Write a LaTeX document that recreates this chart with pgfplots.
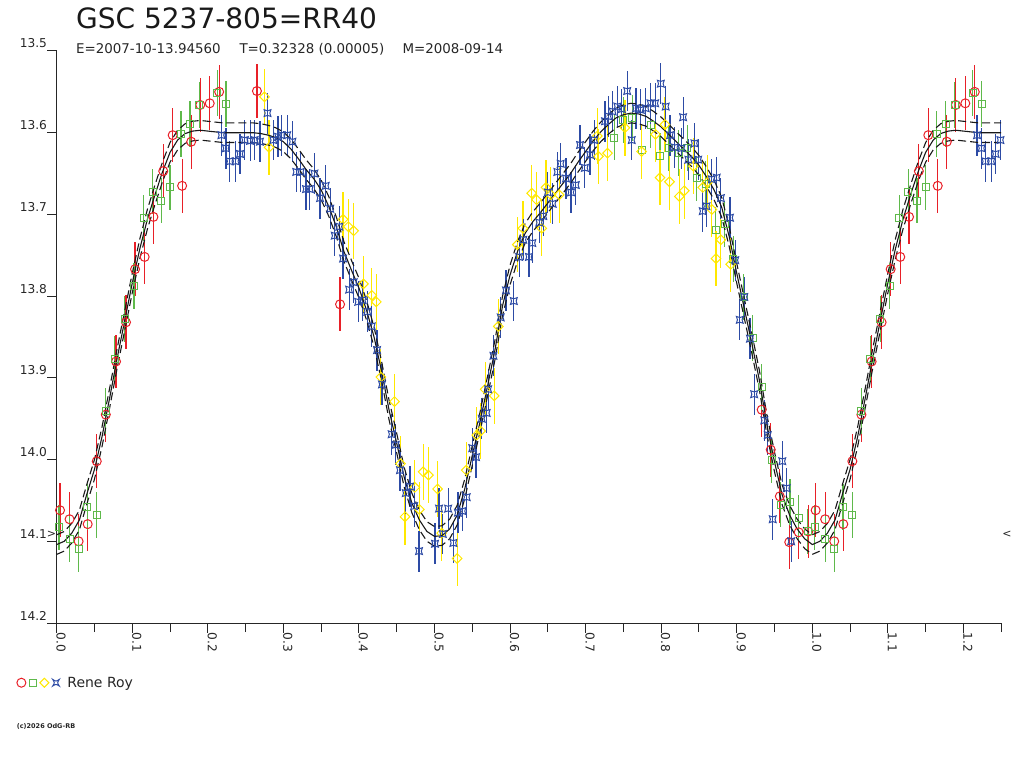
\documentclass[border=0pt]{standalone}
\usepackage{pgfplots}
\pgfplotsset{compat=1.18}
\usepackage{pgfplotstable}
\usepackage{fontspec}
\setmainfont{DejaVu Sans}
\definecolor{cred}{RGB}{232,32,40}
\definecolor{cgreen}{RGB}{95,185,75}
\definecolor{cyellow}{RGB}{255,232,0}
\definecolor{cblue}{RGB}{45,75,165}
\pgfdeclareplotmark{hglass}{%
  \pgfpathmoveto{\pgfpoint{-\pgfplotmarksize}{-\pgfplotmarksize}}%
  \pgfpathquadraticcurveto{\pgfpoint{0pt}{-0.35\pgfplotmarksize}}{\pgfpoint{\pgfplotmarksize}{-\pgfplotmarksize}}%
  \pgfpathquadraticcurveto{\pgfpoint{0.35\pgfplotmarksize}{0pt}}{\pgfpoint{\pgfplotmarksize}{\pgfplotmarksize}}%
  \pgfpathquadraticcurveto{\pgfpoint{0pt}{0.35\pgfplotmarksize}}{\pgfpoint{-\pgfplotmarksize}{\pgfplotmarksize}}%
  \pgfpathquadraticcurveto{\pgfpoint{-0.35\pgfplotmarksize}{0pt}}{\pgfpoint{-\pgfplotmarksize}{-\pgfplotmarksize}}%
  \pgfpathclose\pgfusepathqstroke}

\pgfplotstableread{
x y
0.0044 14.062
0.017 14.073
0.029 14.100
0.041 14.079
0.053 14.002
0.065 13.945
0.0785 13.880
0.0917 13.832
0.1037 13.767
0.1164 13.752
0.128 13.703
0.141 13.647
0.1535 13.603
0.166 13.665
0.178 13.611
0.190 13.566
0.2025 13.564
0.215 13.550
0.265 13.549
0.375 13.810
0.933 13.939
0.945 13.988
0.957 14.045
0.9695 14.101
0.982 14.089
0.9947 14.088
1.0044 14.062
1.017 14.073
1.029 14.100
1.041 14.079
1.053 14.002
1.065 13.945
1.0785 13.880
1.0917 13.832
1.1037 13.767
1.1164 13.752
1.128 13.703
1.141 13.647
1.1535 13.603
1.166 13.665
1.178 13.611
1.190 13.566
1.2025 13.564
1.215 13.550
}\redtab

\pgfplotstableread{
x y
0.003 14.083
0.017 14.097
0.029 14.109
0.0405 14.058
0.053 14.068
0.065 13.941
0.077 13.877
0.090 13.828
0.1023 13.788
0.115 13.704
0.127 13.672
0.1385 13.683
0.150 13.667
0.1645 13.602
0.1765 13.589
0.1887 13.566
0.2125 13.551
0.224 13.565
0.738 13.606
0.750 13.584
0.762 13.582
0.774 13.621
0.786 13.591
0.7985 13.628
0.810 13.619
0.823 13.625
0.8346 13.619
0.847 13.656
0.859 13.663
0.872 13.719
0.884 13.712
0.8955 13.755
0.909 13.801
0.921 13.851
0.933 13.911
0.946 14.001
0.958 14.055
0.9705 14.052
0.982 14.071
0.994 14.088
1.003 14.083
1.017 14.097
1.029 14.109
1.0405 14.058
1.053 14.068
1.065 13.941
1.077 13.877
1.090 13.828
1.1023 13.788
1.115 13.704
1.127 13.672
1.1385 13.683
1.150 13.667
1.1645 13.602
1.1765 13.589
1.1887 13.566
1.2125 13.551
1.224 13.565
}\greentab

\pgfplotstableread{
x y
0.275 13.556
0.281 13.618
0.379 13.706
0.386 13.715
0.393 13.720
0.406 13.785
0.417 13.799
0.423 13.807
0.429 13.899
0.447 13.929
0.455 14.005
0.461 14.070
0.474 14.034
0.480 14.061
0.485 14.015
0.492 14.019
0.504 14.036
0.5095 14.090
0.530 14.121
0.542 14.013
0.556 13.970
0.561 13.965
0.567 13.914
0.579 13.922
0.5845 13.837
0.6096 13.737
0.617 13.717
0.6286 13.674
0.635 13.682
0.642 13.717
0.6476 13.667
0.654 13.676
0.665 13.676
0.7155 13.604
0.717 13.629
0.729 13.625
0.752 13.594
0.774 13.623
0.7925 13.602
0.7985 13.655
0.805 13.590
0.811 13.660
0.824 13.678
0.8306 13.671
0.8426 13.641
0.855 13.667
0.861 13.661
0.867 13.694
0.8725 13.754
0.879 13.731
0.892 13.761
}\yellowtab

\pgfplotstableread{
x y
0.218 13.603
0.224 13.619
0.229 13.635
0.237 13.635
0.2426 13.626
0.249 13.609
0.256 13.610
0.262 13.609
0.269 13.611
0.279 13.576
0.2867 13.609
0.293 13.605
0.2977 13.603
0.305 13.603
0.312 13.611
0.317 13.648
0.323 13.648
0.330 13.669
0.335 13.669
0.341 13.650
0.3485 13.680
0.356 13.665
0.362 13.693
0.368 13.726
0.374 13.715
0.379 13.754
0.387 13.792
0.393 13.783
0.399 13.807
0.405 13.805
0.411 13.819
0.417 13.837
0.424 13.866
0.4305 13.908
0.4433 13.969
0.4487 13.982
0.4543 14.013
0.462 14.041
0.4676 14.033
0.473 14.057
0.4795 14.112
0.5007 14.103
0.506 14.060
0.511 14.091
0.518 14.060
0.525 14.102
0.531 14.065
0.537 14.063
0.5426 14.046
0.550 13.986
0.555 13.997
0.5625 13.950
0.569 13.943
0.571 13.914
0.578 13.873
0.5876 13.826
0.5946 13.793
0.605 13.806
0.612 13.752
0.6175 13.731
0.625 13.752
0.6295 13.735
0.6387 13.710
0.644 13.702
0.650 13.673
0.6564 13.687
0.6626 13.648
0.667 13.638
0.674 13.656
0.6807 13.673
0.687 13.664
0.6926 13.615
0.699 13.643
0.7058 13.627
0.7115 13.609
0.7256 13.586
0.730 13.580
0.7358 13.574
0.742 13.568
0.748 13.571
0.755 13.549
0.761 13.609
0.7667 13.570
0.773 13.572
0.7795 13.570
0.786 13.564
0.792 13.564
0.7995 13.540
0.806 13.568
0.8117 13.603
0.818 13.618
0.827 13.619
0.829 13.581
0.836 13.633
0.844 13.613
0.849 13.633
0.855 13.696
0.860 13.690
0.867 13.657
0.8735 13.655
0.879 13.680
0.891 13.704
0.898 13.756
0.904 13.829
0.910 13.801
0.9175 13.852
0.923 13.920
0.9365 13.952
0.941 13.970
0.9476 14.073
0.9603 14.002
0.966 14.035
0.972 14.100
1.218 13.603
1.224 13.619
1.229 13.635
1.237 13.635
1.2426 13.626
1.249 13.609
}\bluetab

\pgfplotstableread{
x m u l
0.00 14.104 14.092 14.116
0.01 14.100 14.088 14.112
0.02 14.090 14.078 14.102
0.03 14.074 14.062 14.086
0.04 14.042 14.030 14.054
0.05 14.012 14.000 14.024
0.06 13.972 13.960 13.984
0.07 13.925 13.913 13.937
0.08 13.876 13.864 13.888
0.09 13.830 13.818 13.842
0.10 13.784 13.772 13.796
0.11 13.742 13.730 13.754
0.12 13.706 13.694 13.718
0.13 13.676 13.664 13.688
0.14 13.648 13.636 13.660
0.15 13.624 13.612 13.636
0.16 13.609 13.597 13.621
0.17 13.601 13.589 13.613
0.18 13.598 13.586 13.610
0.19 13.597 13.585 13.609
0.20 13.598 13.586 13.610
0.21 13.599 13.587 13.611
0.22 13.600 13.588 13.612
0.23 13.600 13.588 13.612
0.24 13.600 13.588 13.612
0.25 13.600 13.588 13.612
0.26 13.600 13.588 13.612
0.27 13.601 13.589 13.613
0.28 13.603 13.591 13.615
0.29 13.606 13.594 13.618
0.30 13.611 13.599 13.623
0.31 13.620 13.608 13.632
0.32 13.632 13.620 13.644
0.33 13.645 13.633 13.657
0.34 13.656 13.644 13.668
0.35 13.670 13.658 13.682
0.36 13.690 13.678 13.702
0.37 13.715 13.703 13.727
0.38 13.745 13.733 13.757
0.39 13.768 13.756 13.780
0.40 13.790 13.778 13.802
0.41 13.817 13.805 13.829
0.42 13.850 13.838 13.862
0.43 13.892 13.880 13.904
0.44 13.940 13.928 13.952
0.45 13.980 13.968 13.992
0.46 14.022 14.010 14.034
0.47 14.053 14.041 14.065
0.48 14.074 14.062 14.086
0.49 14.088 14.076 14.100
0.50 14.094 14.082 14.106
0.51 14.093 14.081 14.105
0.52 14.085 14.073 14.097
0.53 14.068 14.056 14.080
0.54 14.036 14.024 14.048
0.55 13.995 13.983 14.007
0.56 13.955 13.943 13.967
0.57 13.911 13.899 13.923
0.58 13.866 13.854 13.878
0.59 13.812 13.800 13.824
0.60 13.774 13.762 13.786
0.61 13.745 13.733 13.757
0.62 13.723 13.711 13.735
0.63 13.709 13.697 13.721
0.64 13.698 13.686 13.710
0.65 13.686 13.674 13.698
0.66 13.674 13.662 13.686
0.67 13.662 13.650 13.674
0.68 13.650 13.638 13.662
0.69 13.636 13.624 13.648
0.70 13.623 13.611 13.635
0.71 13.610 13.598 13.622
0.72 13.599 13.587 13.611
0.73 13.590 13.578 13.602
0.74 13.582 13.570 13.594
0.75 13.578 13.566 13.590
0.76 13.576 13.564 13.588
0.77 13.577 13.565 13.589
0.78 13.580 13.568 13.592
0.79 13.586 13.574 13.598
0.80 13.593 13.581 13.605
0.81 13.602 13.590 13.614
0.82 13.611 13.599 13.623
0.83 13.620 13.608 13.632
0.84 13.629 13.617 13.641
0.85 13.640 13.628 13.652
0.86 13.654 13.642 13.666
0.87 13.670 13.658 13.682
0.88 13.691 13.679 13.703
0.89 13.727 13.715 13.739
0.90 13.772 13.760 13.784
0.91 13.815 13.803 13.827
0.92 13.858 13.846 13.870
0.93 13.903 13.891 13.915
0.94 13.958 13.946 13.970
0.95 14.003 13.991 14.015
0.96 14.043 14.031 14.055
0.97 14.068 14.056 14.080
0.98 14.085 14.073 14.097
0.99 14.097 14.085 14.109
1.00 14.104 14.092 14.116
1.01 14.100 14.088 14.112
1.02 14.090 14.078 14.102
1.03 14.074 14.062 14.086
1.04 14.042 14.030 14.054
1.05 14.012 14.000 14.024
1.06 13.972 13.960 13.984
1.07 13.925 13.913 13.937
1.08 13.876 13.864 13.888
1.09 13.830 13.818 13.842
1.10 13.784 13.772 13.796
1.11 13.742 13.730 13.754
1.12 13.706 13.694 13.718
1.13 13.676 13.664 13.688
1.14 13.648 13.636 13.660
1.15 13.624 13.612 13.636
1.16 13.609 13.597 13.621
1.17 13.601 13.589 13.613
1.18 13.598 13.586 13.610
1.19 13.597 13.585 13.609
1.20 13.598 13.586 13.610
1.21 13.599 13.587 13.611
1.22 13.600 13.588 13.612
1.23 13.600 13.588 13.612
1.24 13.600 13.588 13.612
1.25 13.600 13.588 13.612
}\curvetab

\begin{document}
\begin{tikzpicture}
\path[use as bounding box] (0pt,0pt) rectangle (1024pt,768pt);
\begin{axis}[
  at={(528.95pt,431pt)}, anchor=center,
  scale only axis, width=944.5pt, height=572pt,
  xmin=0, xmax=1.25, ymin=13.5, ymax=14.2,
  y dir=reverse,
  axis x line*=bottom, axis y line*=left,
  axis line style={black!85, line width=1pt},
  clip=false,
  tick align=outside,
  major tick length=9.5pt, minor tick length=9pt,
  tick style={black!85, line width=1pt},
  xtick={0,0.1,...,1.25}, minor x tick num=1,
  ytick={13.5,13.6,...,14.25},
  scaled ticks=false,
  /pgf/number format/.cd, fixed, fixed zerofill, precision=1, assume math mode=true,
  /pgfplots/.cd,
  ticklabel style={font=\fontsize{12.2pt}{14pt}\selectfont, text=black!85},
  xticklabel style={rotate=-90, anchor=base west, inner sep=0pt},
  yticklabel style={anchor=base east, inner sep=0pt, yshift=3pt},
  legend style={at={(-0.0429,-0.1044)}, anchor=west, draw=none, fill=none,
    inner sep=0pt, font=\fontsize{14pt}{16pt}\selectfont, text=black!85,
    nodes={inner sep=0pt}},
  legend cell align=left,
]
\addplot[only marks, mark=o, mark size=4.5pt, cred, mark options={line width=1pt, solid}, forget plot,
  error bars/.cd, y dir=both, y fixed=0.033, error mark=none,
  error bar style={line width=1.2pt, cred}] table[x=x,y=y] {\redtab};
\addplot[only marks, mark=square, mark size=3.5pt, cgreen, mark options={line width=1pt, solid}, forget plot,
  error bars/.cd, y dir=both, y fixed=0.028, error mark=none,
  error bar style={line width=1.2pt, cgreen}] table[x=x,y=y] {\greentab};
\addplot[only marks, mark=square, mark size=3.4pt, cyellow, mark options={line width=1pt, solid, rotate=45}, forget plot,
  error bars/.cd, y dir=both, y fixed=0.034, error mark=none,
  error bar style={line width=1.2pt, cyellow}] table[x=x,y=y] {\yellowtab};
\addplot[only marks, mark=hglass, mark size=3.4pt, cblue, mark options={line width=1pt, solid}, forget plot,
  error bars/.cd, y dir=both, y fixed=0.025, error mark=none,
  error bar style={line width=1.2pt, cblue}] table[x=x,y=y] {\bluetab};
\addplot[no marks, black!90, line width=1.1pt, forget plot] table[x=x,y=m] {\curvetab};
\addplot[no marks, black!90, line width=1.1pt, dash pattern=on 8pt off 4pt, forget plot] table[x=x,y=u] {\curvetab};
\addplot[no marks, black!90, line width=1.1pt, dash pattern=on 8pt off 4pt, forget plot] table[x=x,y=l] {\curvetab};
\addlegendimage{draw=none, legend image code/.code={
  \path[draw=none, fill=none] (-0.5pt,0pt) -- (50.5pt,0pt);
  \draw[cred, line width=1pt] (4.5pt,0pt) circle (4.5pt);
  \draw[cgreen, line width=1pt] (12.8pt,-3.3pt) rectangle (19.4pt,3.3pt);
  \draw[cyellow, line width=1pt] (23pt,0pt) -- (27.5pt,4.5pt) -- (32pt,0pt) -- (27.5pt,-4.5pt) -- cycle;
  \draw[cblue, line width=1pt] (35.8pt,-3.3pt) .. controls (39.1pt,-1.2pt) .. (42.4pt,-3.3pt)
     .. controls (40.3pt,0pt) .. (42.4pt,3.3pt) .. controls (39.1pt,1.2pt) .. (35.8pt,3.3pt)
     .. controls (37.9pt,0pt) .. cycle;
}}
\addlegendentry{Rene Roy}
\node[font=\fontsize{11pt}{12pt}\selectfont, text=black!85, inner sep=0pt] at (axis cs:-0.0069,14.092) {>};
\node[font=\fontsize{11pt}{12pt}\selectfont, text=black!85, inner sep=0pt] at (axis cs:1.2577,14.092) {<};
\end{axis}
\node[anchor=base west, inner sep=0pt, font=\fontsize{28pt}{32pt}\selectfont, text=black!90] at (76pt,739.7pt) {GSC 5237-805=RR40};
\node[anchor=base west, inner sep=0pt, font=\fontsize{13.4pt}{15pt}\selectfont, text=black!85] at (76pt,714.7pt) {E=2007-10-13.94560};
\node[anchor=base west, inner sep=0pt, font=\fontsize{13.4pt}{15pt}\selectfont, text=black!85] at (239.3pt,714.7pt) {T=0.32328 (0.00005)};
\node[anchor=base west, inner sep=0pt, font=\fontsize{13.4pt}{15pt}\selectfont, text=black!85] at (402.3pt,714.7pt) {M=2008-09-14};
\node[anchor=base west, inner sep=0pt, font=\bfseries\fontsize{6.5pt}{8pt}\selectfont, text=black!85] at (16.7pt,39.7pt) {(c)2026 OdG-RB};
\end{tikzpicture}
\end{document}
